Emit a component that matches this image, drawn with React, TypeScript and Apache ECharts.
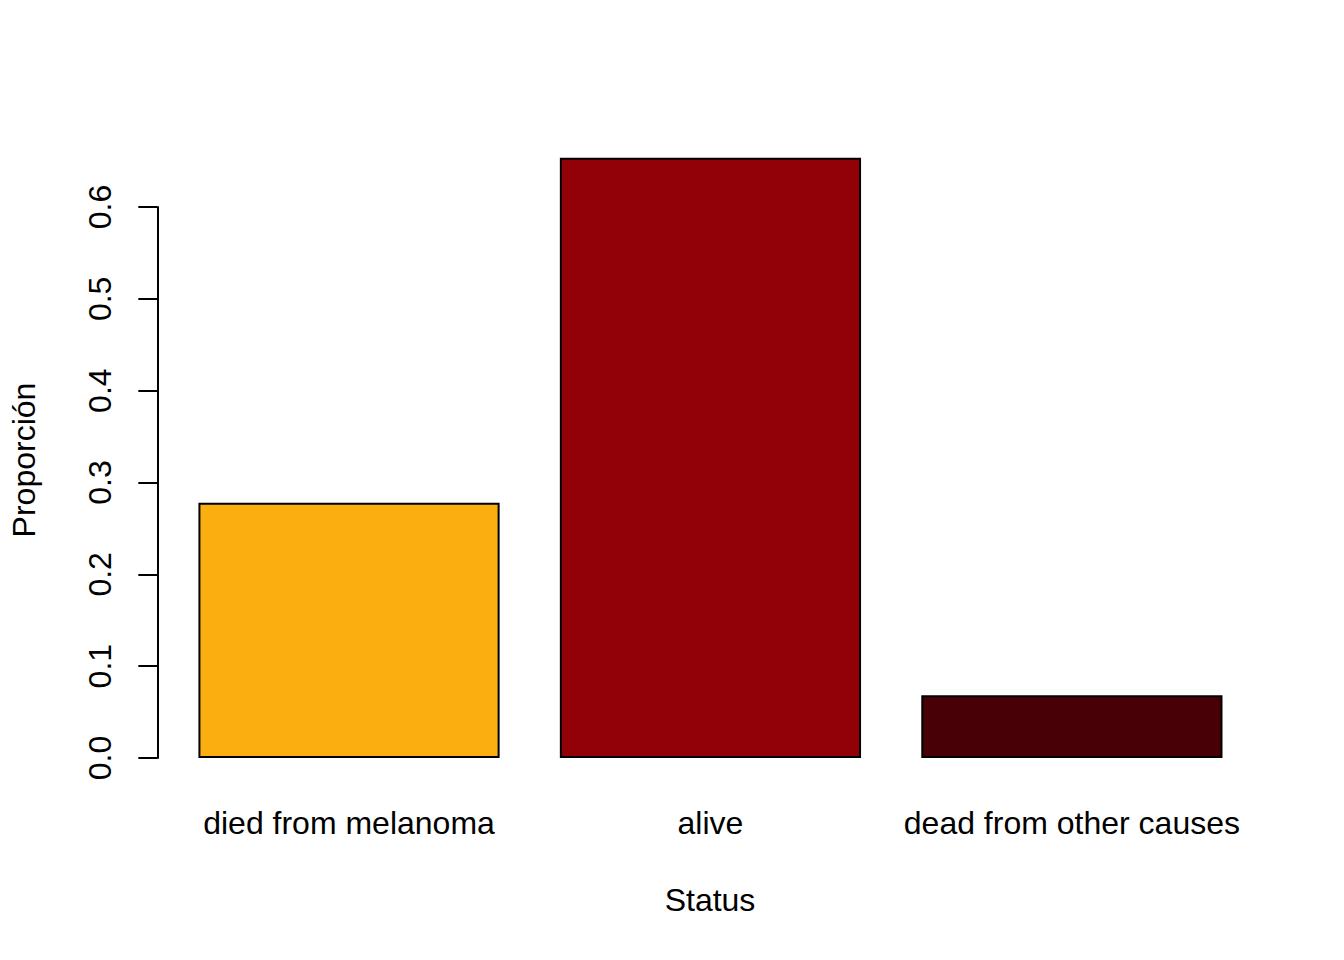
import React, { useEffect, useRef } from "react";
import * as echarts from "echarts";

const categories = ["died from melanoma", "alive", "dead from other causes"];
const proportions = [0.278, 0.6537, 0.0683];
const barColors = ["#FBAE0F", "#920008", "#480006"];
const yTicks = [0, 0.1, 0.2, 0.3, 0.4, 0.5, 0.6];
const xTitle = "Status";
const yTitle = "Proporción";

const FONT = "Liberation Sans, Arial, Helvetica, sans-serif";

export default function App() {
  const ref = useRef<HTMLDivElement>(null);
  useEffect(() => {
    if (!ref.current) return;
    const chart = echarts.init(ref.current, undefined, { renderer: "svg" });
    chart.setOption({
      animation: false,
      backgroundColor: "#ffffff",
      textStyle: { fontFamily: FONT },
      grid: { left: 168.3, right: 91.4, top: 207, bottom: 202, containLabel: false },
      xAxis: {
        type: "category",
        data: categories,
        axisLine: { show: false },
        axisTick: { show: false },
        axisLabel: {
          color: "#000",
          fontSize: 32,
          fontFamily: FONT,
          margin: 49,
          lineHeight: 32,
          interval: 0,
        },
      },
      yAxis: {
        type: "value",
        min: yTicks[0],
        max: yTicks[yTicks.length - 1],
        interval: 0.1,
        offset: 11,
        splitLine: { show: false },
        axisLine: { show: true, lineStyle: { color: "#000", width: 2 } },
        axisTick: { show: true, length: 19, lineStyle: { color: "#000", width: 2 } },
        axisLabel: {
          color: "#000",
          fontSize: 32,
          fontFamily: FONT,
          rotate: 90,
          margin: 41,
          lineHeight: 32,
          formatter: (v: number) => v.toFixed(1),
        },
      },
      series: [
        {
          type: "bar",
          clip: false,
          barWidth: 301.2,
          data: proportions.map((v, i) => ({
            value: v,
            itemStyle: { color: barColors[i] },
          })),
          itemStyle: { borderColor: "#000", borderWidth: 2 },
        },
      ],
      graphic: [
        {
          type: "text",
          x: 710,
          y: 900,
          style: {
            text: xTitle,
            fontSize: 32,
            fontFamily: FONT,
            fill: "#000",
            align: "center",
            verticalAlign: "middle",
          },
        },
        {
          type: "text",
          x: 24,
          y: 460,
          rotation: Math.PI / 2,
          style: {
            text: yTitle,
            fontSize: 32,
            fontFamily: FONT,
            fill: "#000",
            align: "center",
            verticalAlign: "middle",
          },
        },
      ],
    });
    return () => chart.dispose();
  }, []);
  return (
    <div
      ref={ref}
      style={{ position: "fixed", left: 0, top: 0, width: 1344, height: 960 }}
    />
  );
}
